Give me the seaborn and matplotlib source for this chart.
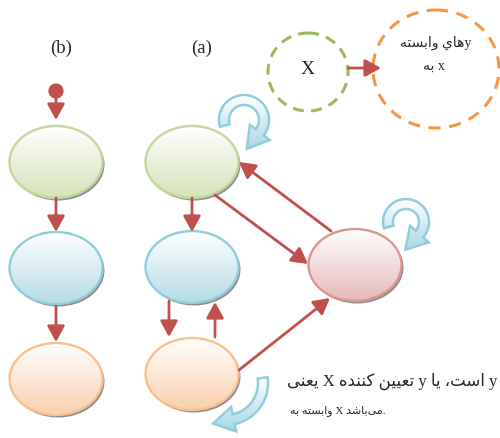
import numpy as np
import seaborn as sns
import matplotlib.pyplot as plt
from matplotlib.patches import Ellipse, Polygon
from matplotlib.colors import to_rgb

sns.set_style('white')
plt.rcParams['font.family'] = ['Liberation Serif', 'DejaVu Sans']

# nodes of the two diagrams: (b) chain on the left, (a) graph on the right
node_names = ['b_top', 'b_mid', 'b_bot', 'a_top', 'a_mid', 'a_bot', 'a_right']
node_x = [56, 56, 56, 192, 192, 192, 355]
node_y = [163, 269, 380, 163, 268, 375, 266]
node_kind = ['green', 'blue', 'orange', 'green', 'blue', 'orange', 'pink']

# straight red arrows: start -> tip
edge_start = [(56, 99), (56, 199), (56, 307), (192, 199), (215, 196), (331, 232), (169, 302), (215, 338), (239, 371)]
edge_tip = [(56, 121), (56, 233), (56, 343), (192, 233), (308, 265), (239, 163), (169, 338), (215, 303), (330, 299)]

# light blue self-loop arrows: arc centre, radius, start / head angle (deg)
loop_cx = [244, 406, 226]
loop_cy = [121, 223, 384]
loop_r = [20, 18, 37]
loop_a0 = [196, 196, 8]
loop_a1 = [-38, -42, -78]

label_b = '(b)'
label_a = '(a)'
legend_x = 'X'

palette = {
    'green': ('#c3d69b', '#d5e3b8'),
    'blue': ('#92cddc', '#b4dce7'),
    'orange': ('#fac08f', '#f9d0ad'),
    'pink': ('#d99694', '#e6b8b7'),
}
red = '#c0504d'

# tiny Persian shaper (presentation forms, visual order)
FORMS = {
    'ا': ('\uFE8D', '\uFE8E', None, None),
    'ب': ('\uFE8F', '\uFE90', '\uFE91', '\uFE92'),
    'ت': ('\uFE95', '\uFE96', '\uFE97', '\uFE98'),
    'س': ('\uFEB1', '\uFEB2', '\uFEB3', '\uFEB4'),
    'ش': ('\uFEB5', '\uFEB6', '\uFEB7', '\uFEB8'),
    'د': ('\uFEA9', '\uFEAA', None, None),
    'ع': ('\uFEC9', '\uFECA', '\uFECB', '\uFECC'),
    'م': ('\uFEE1', '\uFEE2', '\uFEE3', '\uFEE4'),
    'ن': ('\uFEE5', '\uFEE6', '\uFEE7', '\uFEE8'),
    'ه': ('\uFEE9', '\uFEEA', '\uFEEB', '\uFEEC'),
    'و': ('\uFEED', '\uFEEE', None, None),
    'ي': ('\uFEF1', '\uFEF2', '\uFEF3', '\uFEF4'),
    'ی': ('\uFBFC', '\uFBFD', '\uFBFE', '\uFBFF'),
    'ک': ('\uFB8E', '\uFB8F', '\uFB90', '\uFB91'),
}


def shape(word):
    out = []
    for i, c in enumerate(word):
        if c == '\u200c':
            continue
        if c not in FORMS:
            out.append(c)
            continue
        prev = word[i - 1] if i > 0 else None
        nxt = word[i + 1] if i + 1 < len(word) else None
        jp = prev in FORMS and FORMS[prev][2] is not None
        jn = FORMS[c][2] is not None and nxt in FORMS
        iso, fin, ini, med = FORMS[c]
        if jp and jn:
            out.append(med)
        elif jp:
            out.append(fin)
        elif jn:
            out.append(ini)
        else:
            out.append(iso)
    return ''.join(reversed(out))


dep_line1 = shape('وابسته') + ' ' + shape('هاي') + 'y'
dep_line2 = shape('به') + ' x'
note_line1 = ' '.join([shape('یعنی'), 'X', shape('تعیین کننده'), 'y', shape('است، یا'), 'y'])
note_line2 = shape('وابسته به') + ' X ' + shape('می\u200cباشد') + '.'


def gradient_fill(ax, clip, x0, x1, y0, y1, bottom, z):
    top = np.array(to_rgb('#ffffff'))
    bot = np.array(to_rgb(bottom))
    t = np.linspace(0, 1, 100)[:, None]
    grad = (top * (1 - t) + bot * t)[:, None, :]
    img = ax.imshow(grad, extent=(x0, x1, y1, y0), origin='upper',
                    aspect='auto', zorder=z, interpolation='bilinear')
    img.set_clip_path(clip)


def block_arc(cx, cy, r, a0, a1, tw=10, hw=25, hl=21):
    a = np.radians(np.linspace(a0, a1, 60))
    ro, ri = r + tw / 2, r - tw / 2
    outer = np.c_[cx + ro * np.cos(a), cy - ro * np.sin(a)]
    inner = np.c_[cx + ri * np.cos(a), cy - ri * np.sin(a)][::-1]
    e = a[-1]
    base = np.array([cx + r * np.cos(e), cy - r * np.sin(e)])
    d = np.array([np.sin(e), np.cos(e)])
    n = np.array([np.cos(e), -np.sin(e)])
    head = np.array([base + n * hw / 2, base + d * hl, base - n * hw / 2])
    return np.vstack([outer, head, inner])


fig = plt.figure(figsize=(5.0, 4.39), dpi=100)
ax = fig.add_axes([0, 0, 1, 1])
ax.set_xlim(0, 500)
ax.set_ylim(439, 0)
ax.axis('off')

W, H = 93, 72
for x, y, kind in zip(node_x, node_y, node_kind):
    edge, bottom = palette[kind]
    ax.add_patch(Ellipse((x + 2, y + 2.5), W, H, facecolor='#909090', edgecolor='none', zorder=1))
    body = Ellipse((x, y), W, H, facecolor='none', edgecolor=edge, lw=1.7, zorder=3)
    ax.add_patch(body)
    gradient_fill(ax, body, x - W / 2, x + W / 2, y - H / 2, y + H / 2, bottom, 2)

# red start dot for chain (b)
sns.scatterplot(x=[56], y=[92], color=red, s=120, edgecolor='none', ax=ax, zorder=5)

for (x0, y0), (x1, y1) in zip(edge_start, edge_tip):
    ax.annotate('', xy=(x1, y1), xytext=(x0, y0),
                arrowprops=dict(arrowstyle='-|>,head_length=0.6,head_width=0.33', color=red, lw=2,
                                mutation_scale=16, shrinkA=0, shrinkB=0), zorder=6)

for cx, cy, r, a0, a1 in zip(loop_cx, loop_cy, loop_r, loop_a0, loop_a1):
    pts = block_arc(cx, cy, r, a0, a1)
    poly = Polygon(pts, closed=True, facecolor='none', edgecolor='#93cddd', lw=1.8, zorder=8)
    ax.add_patch(poly)
    gradient_fill(ax, poly, pts[:, 0].min(), pts[:, 0].max(), pts[:, 1].min(), pts[:, 1].max(), '#a9d8e6', 7)

# dashed legend circles
ax.add_patch(Ellipse((308, 73), 80, 78, fill=False, edgecolor='#9bbb59', lw=2.2, linestyle=(0, (3.6, 2.4)), zorder=4))
ax.add_patch(Ellipse((436, 70), 126, 118, fill=False, edgecolor='#f79646', lw=2.2, linestyle=(0, (4, 2.8)), zorder=4))
ax.annotate('', xy=(381, 69), xytext=(348, 69),
            arrowprops=dict(arrowstyle='-|>,head_length=0.6,head_width=0.33', color=red, lw=2,
                            mutation_scale=16, shrinkA=0, shrinkB=0), zorder=6)

ax.text(308, 70, legend_x, fontsize=14, ha='center', va='center')
ax.text(436, 43, dep_line1, fontsize=10, ha='center', va='center')
ax.text(434, 66, dep_line2, fontsize=10, ha='center', va='center')

ax.text(61, 48, label_b, fontsize=13.5, ha='center', va='center')
ax.text(202, 48, label_a, fontsize=13.5, ha='center', va='center')

ax.text(287, 381, note_line1, fontsize=12, ha='left', va='center')
ax.text(290, 411, note_line2, fontsize=8, ha='left', va='center')

fig.savefig('out.png', dpi=100)
